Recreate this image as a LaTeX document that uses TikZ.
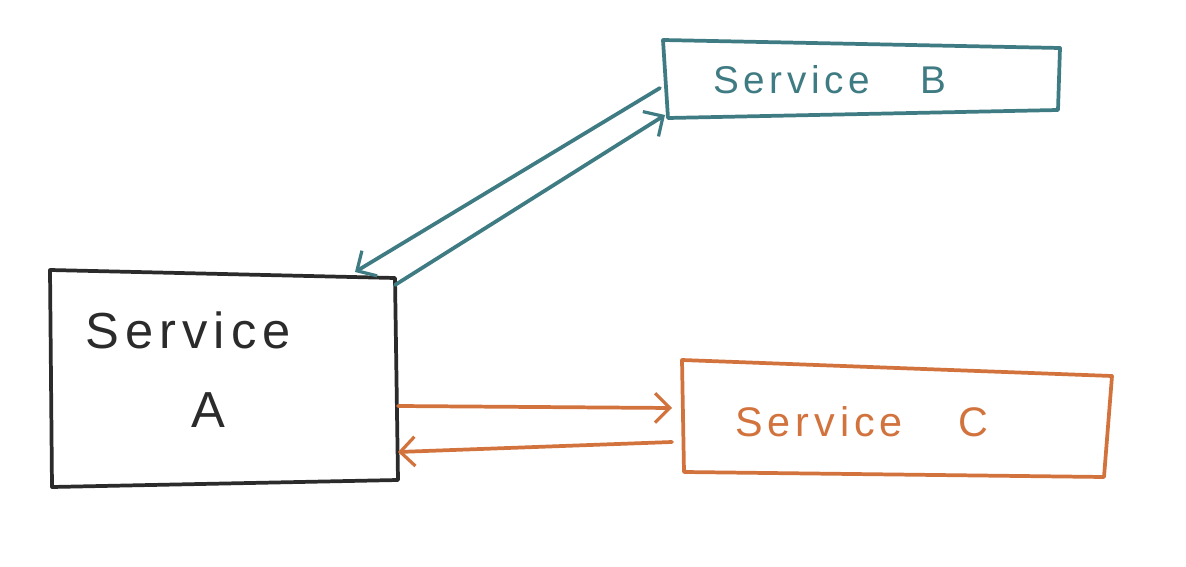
\documentclass[tikz,border=0pt]{standalone}
\usepackage{fontspec}
\setmainfont{Liberation Sans}
\newfontfamily\handfont[LetterSpace=12]{Liberation Sans}
\usetikzlibrary{arrows.meta}
\definecolor{inkA}{HTML}{2B2B2B}
\definecolor{inkB}{HTML}{3F7B83}
\definecolor{inkC}{HTML}{D2733D}
\begin{document}
\begin{tikzpicture}[x=0.75pt,y=-0.75pt,line cap=round,line join=round]
\useasboundingbox[fill=white] (0,0) rectangle (1186,567);
\tikzset{
  sketch/.style={line width=2.8pt},
  barb/.style={-{Straight Barb[length=11pt,width=22pt,line width=2.4pt]}},
  label/.style={inner sep=0pt,font=\handfont}
}
% box corners
\coordinate (A1) at (50,270); \coordinate (A2) at (395,278);
\coordinate (A3) at (398,480); \coordinate (A4) at (52,487);
\coordinate (B1) at (663,40); \coordinate (B2) at (1060,48);
\coordinate (B3) at (1058,110); \coordinate (B4) at (668,118);
\coordinate (C1) at (682,360); \coordinate (C2) at (1112,376);
\coordinate (C3) at (1104,477); \coordinate (C4) at (684,472);
% boxes
\draw[sketch,inkA] (A1) -- (A2) -- (A3) -- (A4) -- cycle;
\draw[sketch,inkB] (B1) -- (B2) -- (B3) -- (B4) -- cycle;
\draw[sketch,inkC] (C1) -- (C2) -- (C3) -- (C4) -- cycle;
% labels
\node[label,inkA,font=\handfont\fontsize{38}{40}\selectfont] (tA1) at (188,330) {Service};
\node[label,inkA,font=\handfont\fontsize{38}{40}\selectfont] (tA2) at (208,410) {A};
\node[label,inkB,font=\handfont\fontsize{29}{30}\selectfont] (tB) at (830,80) {Service\hspace{38pt}B};
\node[label,inkC,font=\handfont\fontsize{31}{32}\selectfont] (tC) at (862,422) {Service\hspace{42pt}C};
% arrow end points
\coordinate (ba0) at (660,88);  \coordinate (ba1) at (355,272);
\coordinate (ab0) at (395,285); \coordinate (ab1) at (665,115);
\coordinate (ac0) at (398,406); \coordinate (ac1) at (672,408);
\coordinate (ca0) at (672,442); \coordinate (ca1) at (398,452);
% connectors
\draw[sketch,inkB,barb] (ba0) -- (ba1);
\draw[sketch,inkB,barb] (ab0) -- (ab1);
\draw[sketch,inkC,barb] (ac0) -- (ac1);
\draw[sketch,inkC,barb] (ca0) -- (ca1);
\end{tikzpicture}
\end{document}
